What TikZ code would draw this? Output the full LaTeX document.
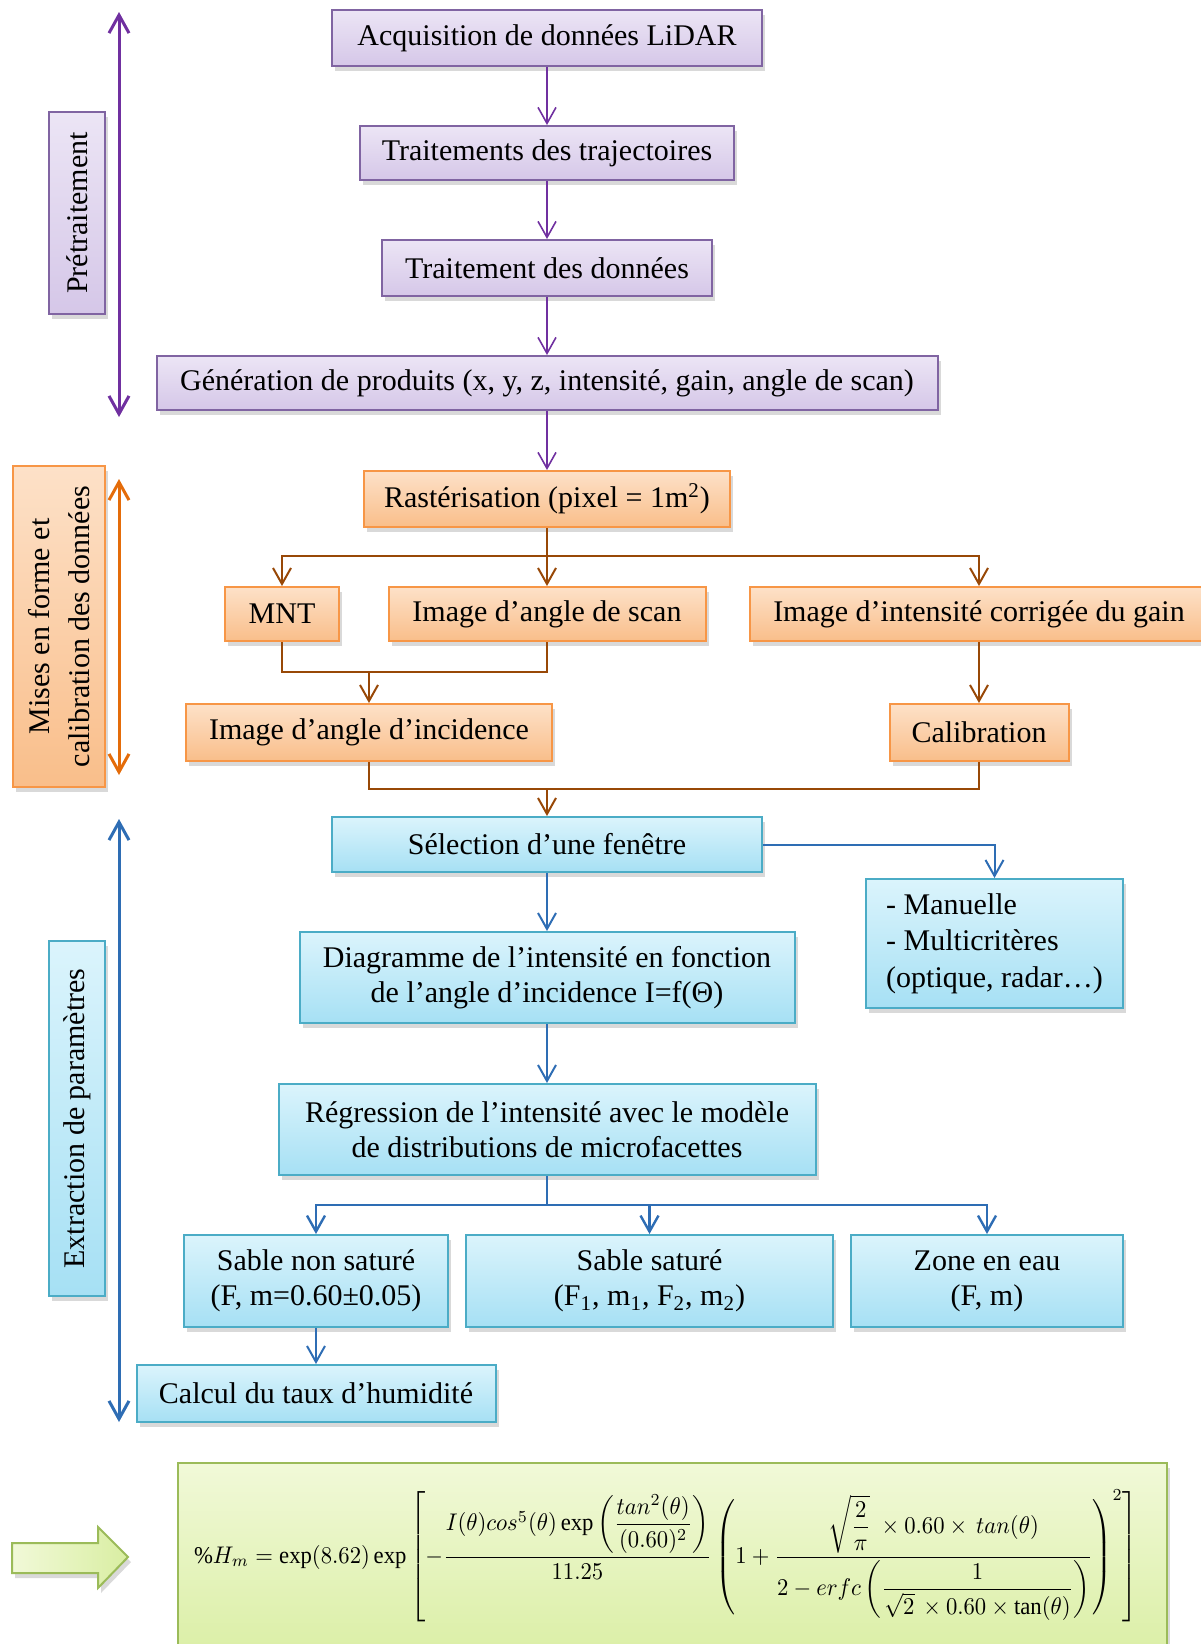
\documentclass[tikz,border=0pt]{standalone}
\usepackage{fontspec}
\setmainfont{Liberation Serif}
\usepackage{amsmath}
\usepackage{graphicx}
\usetikzlibrary{arrows.meta,shadows}

\definecolor{purpleline}{HTML}{7030A0}
\definecolor{purpleedge}{HTML}{8064A2}
\definecolor{purpletop}{HTML}{ECE5F5}
\definecolor{purplebot}{HTML}{D5C7E8}
\definecolor{orangeline}{HTML}{E46C0A}
\definecolor{orangeedge}{HTML}{F79646}
\definecolor{orangetop}{HTML}{FDE1C8}
\definecolor{orangebot}{HTML}{F9BE8A}
\definecolor{brownline}{HTML}{984807}
\definecolor{blueline}{HTML}{2E6DB4}
\definecolor{blueedge}{HTML}{4BACC6}
\definecolor{bluetop}{HTML}{DBF4FC}
\definecolor{bluebot}{HTML}{A6E0F4}
\definecolor{greenedge}{HTML}{9BBB59}
\definecolor{greentop}{HTML}{F1F9D8}
\definecolor{greenbot}{HTML}{D9EEA2}

\begin{document}
\begin{tikzpicture}[x=0.5pt,y=-0.5pt,
    box/.style={draw, line width=1pt, align=center, inner sep=2pt,
        font=\fontsize{15}{17.5}\selectfont,
        drop shadow={shadow xshift=1.5pt, shadow yshift=-2.5pt, opacity=0.3}},
    pbox/.style={box, draw=purpleedge, top color=purpletop, bottom color=purplebot},
    obox/.style={box, draw=orangeedge, top color=orangetop, bottom color=orangebot},
    bbox/.style={box, draw=blueedge, top color=bluetop, bottom color=bluebot},
    side/.style={rotate=90, font=\fontsize{15}{20}\selectfont},
    tip/.style={-{Straight Barb[length=8pt,width=9pt]}},
    span/.style={{Straight Barb[length=9pt,width=10pt]}-{Straight Barb[length=9pt,width=10pt]}, line width=1.5pt},
    parr/.style={tip, purpleline, line width=0.8pt},
    oarr/.style={tip, brownline, line width=1pt},
    barr/.style={tip, blueline, line width=1pt}]

    \useasboundingbox (0,0) rectangle (1200,1644);

    % Pretraitement
    \node[pbox, minimum width=215pt, minimum height=28pt] (acq) at (547,38) {Acquisition de données LiDAR};
    \node[pbox, minimum width=187pt, minimum height=27pt] (traj) at (547,153) {Traitements des trajectoires};
    \node[pbox, minimum width=165pt, minimum height=28pt] (trait) at (547,268) {Traitement des données};
    \node[pbox, minimum width=390.5pt, minimum height=27pt] (gen) at (547,383) {Génération de produits (x, y, z, intensité, gain, angle de scan)};
    \node[pbox, side, minimum width=101pt, minimum height=28pt] (pre) at (77,213) {Prétraitement};

    % Mises en forme
    \node[obox, minimum width=183pt, minimum height=28pt] (rast) at (547,499) {Rastérisation (pixel = 1m\textsuperscript{2})};
    \node[obox, minimum width=57pt, minimum height=27pt] (mnt) at (282,614) {MNT};
    \node[obox, minimum width=158.5pt, minimum height=27pt] (scan) at (547,614) {Image d’angle de scan};
    \node[obox, minimum width=229pt, minimum height=27pt] (inten) at (979,614) {Image d’intensité corrigée du gain};
    \node[obox, minimum width=183pt, minimum height=28.5pt] (inc) at (369,732.5) {Image d’angle d’incidence};
    \node[obox, minimum width=89.5pt, minimum height=28.5pt] (calib) at (979,732.5) {Calibration};
    \node[obox, side, minimum width=160.5pt, minimum height=46pt] (mise) at (59,626.5) {Mises en forme et\\calibration des données};

    % Extraction
    \node[bbox, minimum width=215pt, minimum height=27.5pt] (sel) at (547,844.5) {Sélection d’une fenêtre};
    \node[bbox, minimum width=128.5pt, minimum height=64.5pt, align=left, font=\fontsize{15}{18.3}\selectfont] (man) at (994.5,943.5) {- Manuelle\\- Multicritères\\(optique, radar…)};
    \node[bbox, minimum width=247.5pt, minimum height=45.5pt] (diag) at (547,977.5) {Diagramme de l’intensité en fonction\\de l’angle d’incidence I=f(Θ)};
    \node[bbox, minimum width=268.5pt, minimum height=45.5pt] (reg) at (547,1129.5) {Régression de l’intensité avec le modèle\\de distributions de microfacettes};
    \node[bbox, minimum width=132pt, minimum height=46pt] (snon) at (316,1281) {Sable non saturé\\(F, m=0.60±0.05)};
    \node[bbox, minimum width=183.5pt, minimum height=46pt] (ssat) at (649.5,1281) {Sable saturé\\(F\textsubscript{1}, m\textsubscript{1}, F\textsubscript{2}, m\textsubscript{2})};
    \node[bbox, minimum width=136pt, minimum height=46pt] (zone) at (987,1281) {Zone en eau\\(F, m)};
    \node[bbox, minimum width=179.5pt, minimum height=28.5pt] (calc) at (316,1393.5) {Calcul du taux d’humidité};
    \node[bbox, side, minimum width=177.5pt, minimum height=28pt] (ext) at (77,1118.5) {Extraction de paramètres};

    % Formule
    \node[box, draw=greenedge, top color=greentop, bottom color=greenbot, minimum width=494.5pt, minimum height=103.5pt] (hbox) at (672.5,1566.5) {};
    \node (hform) at (666,1556) {\resizebox*{472pt}{66pt}{$\displaystyle \%H_m = \exp(8.62)\exp\left[-\frac{I(\theta)cos^5(\theta)\exp\left(\dfrac{tan^2(\theta)}{(0.60)^2}\right)}{11.25}\left(1+\frac{\sqrt{\dfrac{2}{\pi}}\;\times 0.60\times\, tan(\theta)}{2-erfc\left(\dfrac{1}{\sqrt{2}\,\times 0.60\times\tan(\theta)}\right)}\right)^{2}\right]$}};
    \draw[draw=greenedge, line width=1pt, left color=greentop, right color=greenbot,
        drop shadow={shadow xshift=1.5pt, shadow yshift=-2.5pt, opacity=0.3}]
        (12,1543) -- (98,1543) -- (98,1527) -- (128,1557) -- (98,1588) -- (98,1573) -- (12,1573) -- cycle;

    % Side arrows
    \coordinate (pretop) at (119,12);
    \coordinate (prebot) at (119,417);
    \coordinate (misetop) at (119,479);
    \coordinate (misebot) at (119,775);
    \coordinate (exttop) at (119,819);
    \coordinate (extbot) at (119,1422);
    \draw[span, purpleline] (pretop) -- (prebot);
    \draw[span, orangeline] (misetop) -- (misebot);
    \draw[span, blueline] (exttop) -- (extbot);

    % Connectors
    \draw[parr] (acq) -- (traj);
    \draw[parr] (traj) -- (trait);
    \draw[parr] (trait) -- (gen);
    \draw[parr] (gen) -- (rast);

    \coordinate (b1) at (547,556);
    \coordinate (m1) at (369,672);
    \coordinate (m2) at (547,789);
    \draw[brownline, line width=1pt] (rast) -- (b1);
    \draw[oarr] (b1) -| (mnt.north);
    \draw[oarr] (b1) -- (scan);
    \draw[oarr] (b1) -| (inten.north);
    \draw[brownline, line width=1pt] (mnt.south) |- (m1) -| (scan.south);
    \draw[oarr] (m1) -- (inc);
    \draw[oarr] (inten) -- (calib);
    \draw[brownline, line width=1pt] (inc.south) |- (m2) -| (calib.south);
    \draw[oarr] (m2) -- (sel);

    \coordinate (b2) at (547,1205);
    \draw[barr] (sel.east) -| (man.north);
    \draw[barr] (sel) -- (diag);
    \draw[barr] (diag) -- (reg);
    \draw[blueline, line width=1.2pt] (reg) -- (b2);
    \draw[barr, line width=1.2pt] (b2) -| (snon.north);
    \draw[barr, line width=1.2pt] (b2) -| (ssat.north);
    \draw[barr, line width=1.2pt] (b2) -| (zone.north);
    \draw[barr] (snon) -- (calc);
\end{tikzpicture}
\end{document}
